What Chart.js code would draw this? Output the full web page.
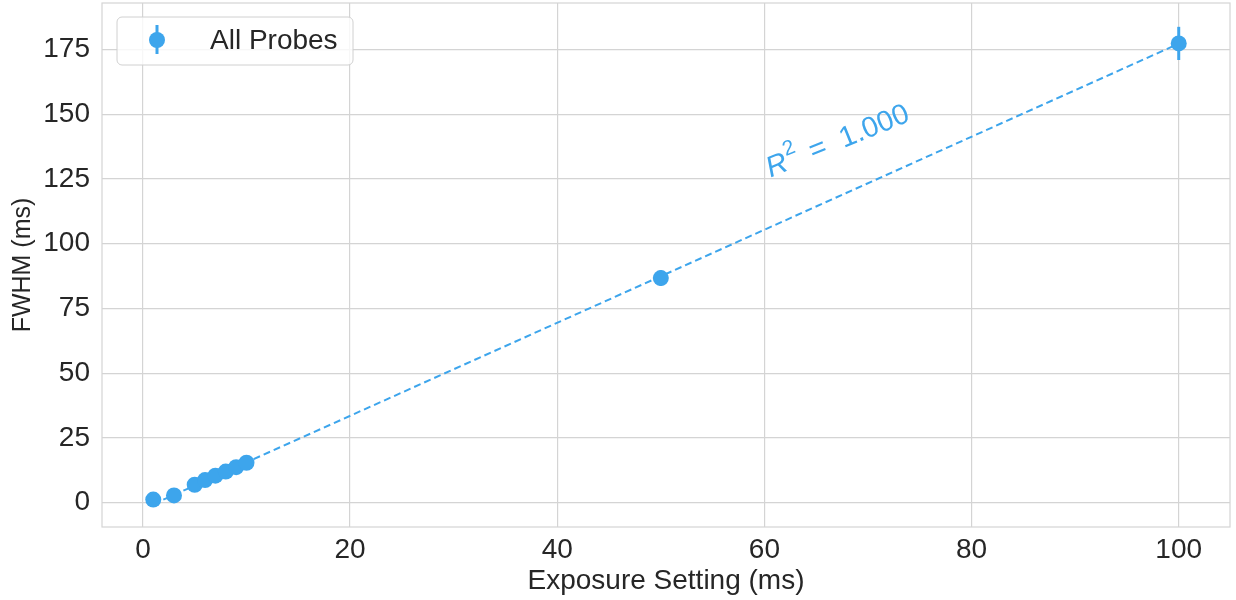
<!DOCTYPE html>
<html>
<head>
<meta charset="utf-8">
<script src="https://cdn.jsdelivr.net/npm/chart.js@4.4.0/dist/chart.umd.min.js"></script>
<style>
html, body { margin: 0; padding: 0; background: #fff; }
</style>
</head>
<body>
<canvas id="grafico" width="1236" height="600"></canvas>
<script>
// dati
const esposizione = [1, 3, 5, 6, 7, 8, 9, 10, 50, 100];
const fwhm = [1.2, 2.8, 6.9, 8.7, 10.4, 12.0, 13.7, 15.4, 86.7, 177.3];
const errFwhm = [0.3, 0.4, 0.6, 0.7, 0.8, 0.9, 1.0, 1.1, 3.0, 6.4];
const fitX = [1, 100];
const fitY = [-0.6, 177.2];
const xTicks = [0, 20, 40, 60, 80, 100];
const yTicks = [0, 25, 50, 75, 100, 125, 150, 175];
const etichettaSerie = 'All Probes';
const testoR2 = '1.000';

const blu = '#3da5ec';
const griglia = '#d4d4d4';
const testo = '#262626';
const font = "'Liberation Sans', Arial, sans-serif";

// Plugin: cornice, barre di errore, legenda e R^2
const extra = {
    id: 'extra',
    beforeDatasetsDraw(chart) {
        const ctx = chart.ctx;
        const x = chart.scales.x, y = chart.scales.y;
        ctx.save();
        ctx.strokeStyle = blu;
        ctx.lineWidth = 3;
        esposizione.forEach((v, i) => {
            const px = x.getPixelForValue(v);
            ctx.beginPath();
            ctx.moveTo(px, y.getPixelForValue(fwhm[i] - errFwhm[i]));
            ctx.lineTo(px, y.getPixelForValue(fwhm[i] + errFwhm[i]));
            ctx.stroke();
        });
        ctx.restore();
    },
    afterDraw(chart) {
        const ctx = chart.ctx;
        const a = chart.chartArea;
        const x = chart.scales.x, y = chart.scales.y;
        ctx.save();
        // cornice
        ctx.strokeStyle = griglia;
        ctx.lineWidth = 1.2;
        ctx.strokeRect(a.left, a.top, a.right - a.left, a.bottom - a.top);

        // legenda
        const lx = a.left + 15, ly = a.top + 14, lw = 236, lh = 48;
        ctx.beginPath();
        ctx.roundRect(lx, ly, lw, lh, 5);
        ctx.fillStyle = 'rgba(255,255,255,0.8)';
        ctx.fill();
        ctx.strokeStyle = '#d0d0d0';
        ctx.lineWidth = 1;
        ctx.stroke();
        const mx = lx + 40, my = ly + 23;
        ctx.strokeStyle = blu;
        ctx.lineWidth = 3;
        ctx.beginPath();
        ctx.moveTo(mx, my - 15);
        ctx.lineTo(mx, my + 14);
        ctx.stroke();
        ctx.fillStyle = blu;
        ctx.beginPath();
        ctx.arc(mx, my, 8, 0, Math.PI * 2);
        ctx.fill();
        ctx.fillStyle = testo;
        ctx.font = '28px ' + font;
        ctx.textBaseline = 'middle';
        ctx.fillText(etichettaSerie, lx + 93, my + 1);

        // R^2
        const rx = x.getPixelForValue(60.6), ry = y.getPixelForValue(125.5);
        ctx.translate(rx, ry);
        ctx.rotate(-22 * Math.PI / 180);
        ctx.fillStyle = blu;
        ctx.textBaseline = 'alphabetic';
        ctx.font = 'italic 29px ' + font;
        ctx.fillText('R', 0, 0);
        ctx.font = '21px ' + font;
        ctx.fillText('2', 22, -14);
        ctx.font = '29px ' + font;
        ctx.fillText('=', 46, 0);
        ctx.fillText(testoR2, 79, 0);
        ctx.restore();
    }
};

new Chart(document.getElementById('grafico'), {
    type: 'scatter',
    data: {
        datasets: [
            {
                label: etichettaSerie,
                data: esposizione.map((v, i) => ({ x: v, y: fwhm[i] })),
                backgroundColor: blu,
                borderColor: blu,
                pointRadius: 8,
                pointHoverRadius: 8,
                borderWidth: 0
            },
            {
                label: 'fit',
                type: 'line',
                data: fitX.map((v, i) => ({ x: v, y: fitY[i] })),
                borderColor: blu,
                borderWidth: 2,
                borderDash: [7, 4],
                pointRadius: 0,
                fill: false
            }
        ]
    },
    options: {
        responsive: false,
        animation: false,
        devicePixelRatio: 1,
        layout: { autoPadding: false, padding: { top: 3, right: 6, left: 0, bottom: 0 } },
        plugins: { legend: { display: false }, tooltip: { enabled: false } },
        scales: {
            x: {
                type: 'linear',
                min: -3.95,
                max: 104.95,
                afterBuildTicks: s => { s.ticks = xTicks.map(v => ({ value: v })); },
                afterFit: s => { s.height = 73; s.paddingLeft = 0; s.paddingRight = 0; },
                grid: { color: griglia, lineWidth: 1.2, drawTicks: false },
                border: { display: false },
                ticks: { color: testo, font: { size: 28, family: font }, padding: 6, maxRotation: 0 },
                title: { display: true, text: 'Exposure Setting (ms)', color: testo, font: { size: 28, family: font }, padding: { top: 0, bottom: 2 } }
            },
            y: {
                type: 'linear',
                min: -9.4,
                max: 192.9,
                afterBuildTicks: s => { s.ticks = yTicks.map(v => ({ value: v })); },
                afterFit: s => { s.width = 102; s.paddingTop = 0; s.paddingBottom = 0; },
                grid: { color: griglia, lineWidth: 1.2, drawTicks: false },
                border: { display: false },
                ticks: { color: testo, font: { size: 28, family: font }, padding: 12 },
                title: { display: true, text: 'FWHM (ms)', color: testo, font: { size: 25, family: font }, padding: { top: 8, bottom: 0 } }
            }
        }
    },
    plugins: [extra]
});
</script>
</body>
</html>
